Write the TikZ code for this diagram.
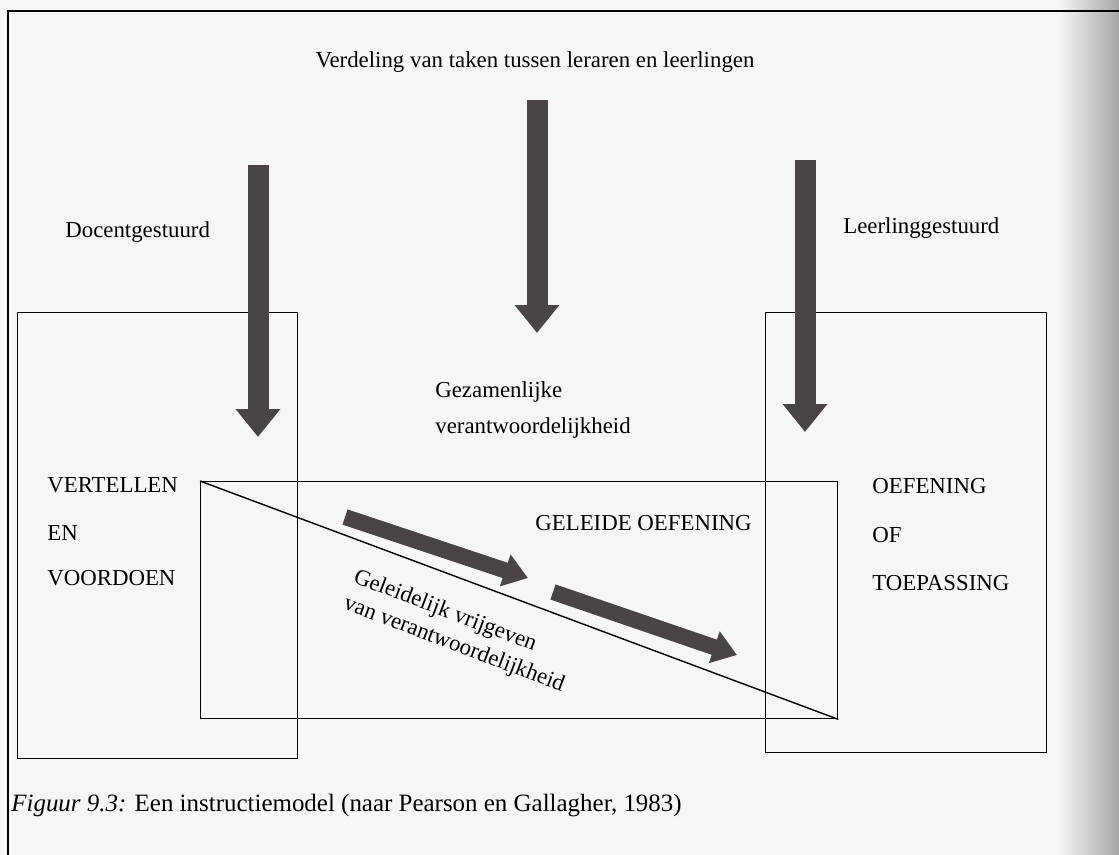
\documentclass[tikz,border=0pt]{standalone}
\usepackage{fontspec}
\setmainfont{Liberation Serif}
\usetikzlibrary{arrows.meta}
\definecolor{arrowgray}{RGB}{74,68,70}
\definecolor{paper}{RGB}{246,246,246}
\tikzstyle{phase} = [rectangle,
draw=black,
line width=0.8pt,
inner sep=0pt,
anchor=north west]
\tikzstyle{txt} = [font=\fontsize{13}{15}\selectfont,
inner sep=0pt,
anchor=base west]
\tikzstyle{bigarrow} = [draw=arrowgray,
line width=0.42cm,
-{Triangle[width=0.86cm, length=0.56cm]}]
\tikzstyle{slantarrow} = [draw=arrowgray,
line width=0.32cm,
-{Triangle[width=0.64cm, length=0.48cm]}]

\begin{document}
\begin{tikzpicture}[x=0.02cm, y=-0.02cm]
\useasboundingbox (0,0) rectangle (1119,855);
\fill[paper] (0,0) rectangle (1119,855);
\shade[left color=paper, right color=black!35] (1058,0) rectangle (1119,855);
\draw[line width=1pt] (1119,11) -- (8,11) -- (8,855);

% the three phases
\node (tell) [phase, minimum width=5.6cm, minimum height=8.92cm] at (17,312) {};
\node (apply) [phase, minimum width=5.62cm, minimum height=8.8cm] at (765,312) {};
\node (guided) [phase, minimum width=12.74cm, minimum height=4.74cm] at (200,481) {};
\draw [line width=0.8pt] (guided.north west) -- (guided.south east);

% texts
\node (title) [txt, anchor=base] at (535,68) {Verdeling van taken tussen leraren en leerlingen};
\node (teacher) [txt] at (65,237) {Docentgestuurd};
\node (pupil) [txt] at (843,233) {Leerlinggestuurd};
\node (joint1) [txt] at (435,397) {Gezamenlijke};
\node (joint2) [txt] at (435,433) {verantwoordelijkheid};
\node (tell1) [txt] at (47,492) {VERTELLEN};
\node (tell2) [txt] at (47,540) {EN};
\node (tell3) [txt] at (47,585) {VOORDOEN};
\node (guide) [txt] at (535,530) {GELEIDE OEFENING};
\node (apply1) [txt] at (872,493) {OEFENING};
\node (apply2) [txt] at (872,542) {OF};
\node (apply3) [txt] at (872,590) {TOEPASSING};
\node (release) [txt, font=\fontsize{13}{16}\selectfont, align=left, anchor=north west, rotate=-20.8] at (358,567) {Geleidelijk vrijgeven\\van verantwoordelijkheid};
\node (caption) [txt, font=\fontsize{14.2}{16}\selectfont] at (11,811) {\textit{Figuur 9.3:} Een instructiemodel (naar Pearson en Gallagher, 1983)};

% arrows
\coordinate (down1a) at (258,165);
\coordinate (down1b) at (258,437);
\coordinate (down2a) at (537,100);
\coordinate (down2b) at (537,333);
\coordinate (down3a) at (805,160);
\coordinate (down3b) at (805,432);
\coordinate (slant1a) at (345,517);
\coordinate (slant1b) at (528,578);
\coordinate (slant2a) at (553,592);
\coordinate (slant2b) at (737,655);
\draw [bigarrow] (down1a) -- (down1b);
\draw [bigarrow] (down2a) -- (down2b);
\draw [bigarrow] (down3a) -- (down3b);
\draw [slantarrow] (slant1a) -- (slant1b);
\draw [slantarrow] (slant2a) -- (slant2b);
\end{tikzpicture}
\end{document}
